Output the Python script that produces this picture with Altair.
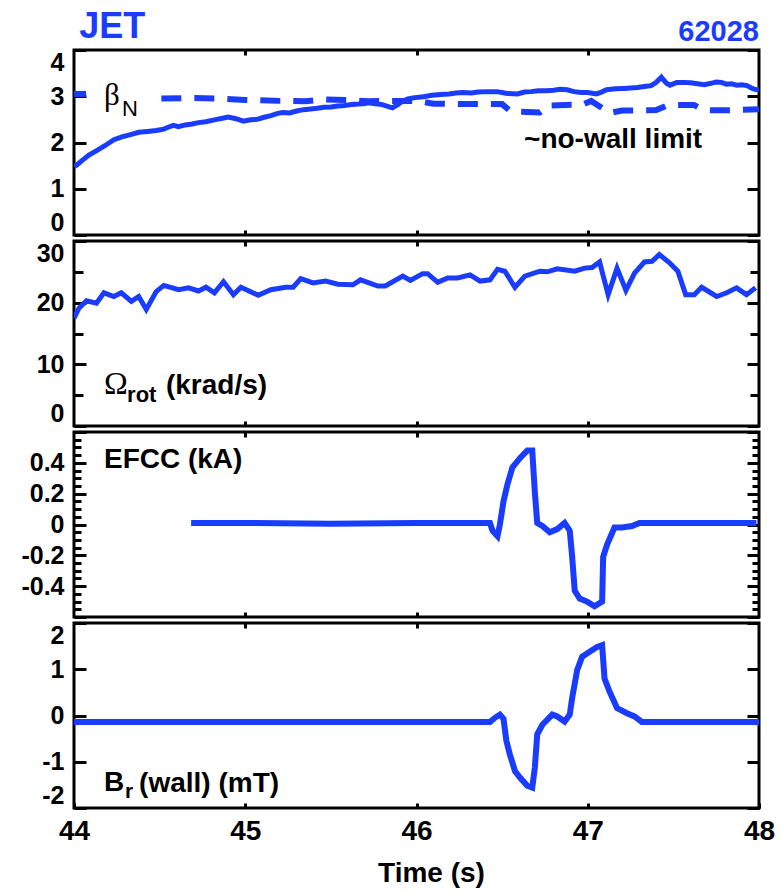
import altair as alt
import pandas as pd

BLUE = "#1a3cff"
SANS = "Liberation Sans, Arial, sans-serif"
SERIF = "Liberation Serif, Times New Roman, serif"

# ---------------- data ----------------
# Panel 1: normalised beta (solid) and ~no-wall limit (dashed)
beta_t = [44.0, 44.015, 44.05, 44.087, 44.13, 44.18, 44.233, 44.28, 44.33, 44.378, 44.43, 44.48,
          44.524, 44.55, 44.58, 44.61, 44.65, 44.69, 44.727, 44.77, 44.82, 44.86, 44.90, 44.94,
          44.99, 45.03, 45.07, 45.105, 45.15, 45.19, 45.22, 45.26, 45.30, 45.34, 45.37, 45.42,
          45.46, 45.50, 45.54, 45.58, 45.62, 45.66, 45.69, 45.72, 45.76, 45.80, 45.84, 45.86,
          45.89, 45.92, 45.95, 45.99, 46.04, 46.09, 46.14, 46.19, 46.23, 46.27, 46.32, 46.36,
          46.41, 46.47, 46.53, 46.59, 46.63, 46.67, 46.71, 46.76, 46.80, 46.84, 46.88, 46.92,
          46.96, 47.0, 47.05, 47.08, 47.11, 47.16, 47.21, 47.25, 47.29, 47.33, 47.37, 47.40,
          47.43, 47.46, 47.48, 47.52, 47.56, 47.60, 47.64, 47.68, 47.72, 47.75, 47.78, 47.81,
          47.84, 47.87, 47.90, 47.93, 47.96, 47.985, 48.0]
beta_v = [1.48, 1.51, 1.62, 1.73, 1.82, 1.93, 2.06, 2.12, 2.17, 2.22, 2.24, 2.26,
          2.29, 2.33, 2.37, 2.34, 2.38, 2.40, 2.43, 2.45, 2.49, 2.52, 2.55, 2.52,
          2.46, 2.49, 2.50, 2.54, 2.58, 2.63, 2.65, 2.64, 2.68, 2.71, 2.72, 2.74,
          2.76, 2.77, 2.79, 2.80, 2.82, 2.83, 2.84, 2.86, 2.84, 2.82, 2.77, 2.75,
          2.82, 2.90, 2.94, 2.97, 2.99, 3.02, 3.04, 3.05, 3.07, 3.08, 3.07, 3.09,
          3.10, 3.10, 3.06, 3.05, 3.09, 3.10, 3.12, 3.12, 3.13, 3.15, 3.14, 3.10,
          3.08, 3.08, 3.05, 3.09, 3.14, 3.16, 3.17, 3.18, 3.19, 3.21, 3.23, 3.30,
          3.41, 3.28, 3.24, 3.30, 3.30, 3.29, 3.27, 3.25, 3.28, 3.31, 3.30, 3.26,
          3.27, 3.24, 3.25, 3.23, 3.17, 3.14, 3.15]

nowall_seg = ["a", "a"] + ["b"] * 28
nowall_t = [44.0, 44.07,
            44.51, 44.70, 44.85, 45.00, 45.20, 45.35, 45.45, 45.60, 45.72, 45.85,
            46.00, 46.10, 46.30, 46.50, 46.55, 46.72, 46.77, 46.97, 47.02, 47.07,
            47.13, 47.20, 47.40, 47.47, 47.62, 47.68, 47.85, 48.0]
nowall_v = [3.05, 3.05,
            2.95, 2.96, 2.95, 2.92, 2.90, 2.89, 2.93, 2.92, 2.89, 2.90,
            2.90, 2.84, 2.83, 2.83, 2.67, 2.65, 2.80, 2.82, 2.90, 2.78,
            2.64, 2.69, 2.70, 2.81, 2.81, 2.70, 2.70, 2.72]

# Panel 2: rotation (krad/s)
rot_t = [44.0, 44.029, 44.073, 44.131, 44.175, 44.233, 44.276, 44.335, 44.378, 44.422, 44.48,
         44.524, 44.611, 44.669, 44.727, 44.771, 44.82, 44.873, 44.931, 44.975, 45.076,
         45.149, 45.236, 45.28, 45.324, 45.396, 45.469, 45.542, 45.629, 45.673, 45.775,
         45.818, 45.92, 45.964, 46.036, 46.065, 46.124, 46.182, 46.24, 46.313, 46.371,
         46.429, 46.473, 46.516, 46.575, 46.633, 46.72, 46.764, 46.822, 46.924, 46.982,
         47.025, 47.069, 47.119, 47.171, 47.223, 47.273, 47.331, 47.375, 47.418, 47.476,
         47.526, 47.572, 47.622, 47.665, 47.753, 47.811, 47.869, 47.927, 47.98]
rot_v = [17.5, 19.1, 20.3, 19.9, 21.6, 21.0, 21.6, 20.2, 21.0, 18.9, 21.8,
         22.8, 22.1, 22.4, 21.9, 22.5, 21.6, 23.4, 21.3, 22.5, 21.2,
         22.1, 22.5, 22.5, 23.9, 23.2, 23.5, 23.0, 22.9, 23.7, 22.7,
         22.7, 24.3, 23.6, 24.7, 24.7, 23.3, 24.0, 24.0, 24.5, 23.5,
         23.7, 25.4, 25.1, 22.5, 24.3, 25.1, 25.0, 25.5, 25.1, 25.6,
         25.7, 26.6, 21.3, 25.6, 22.0, 24.8, 26.6, 26.7, 27.8, 26.5,
         25.1, 21.3, 21.3, 22.5, 21.0, 21.6, 22.4, 21.3, 22.4]

# Panel 3: EFCC current (kA)
efcc_t = [44.684, 45.0, 45.5, 46.0, 46.429, 46.444, 46.473, 46.487, 46.508, 46.531, 46.56,
          46.604, 46.647, 46.676, 46.691, 46.705, 46.735, 46.778, 46.822, 46.865, 46.895,
          46.909, 46.924, 46.953, 46.996, 47.04, 47.084, 47.09, 47.113, 47.156, 47.2,
          47.258, 47.302, 47.985]
efcc_v = [0.01, 0.01, 0.005, 0.01, 0.01, -0.04, -0.075, 0.0, 0.15, 0.26, 0.37,
          0.43, 0.48, 0.48, 0.21, 0.01, -0.01, -0.05, -0.03, 0.01, -0.04,
          -0.21, -0.43, -0.48, -0.50, -0.53, -0.50, -0.21, -0.13, -0.02, -0.02,
          -0.01, 0.01, 0.01]

# Panel 4: Br at the wall (mT)
br_t = [44.0, 45.0, 46.0, 46.429, 46.458, 46.487, 46.508, 46.525, 46.545, 46.575, 46.604,
        46.647, 46.676, 46.691, 46.705, 46.735, 46.793, 46.822, 46.865, 46.895, 46.909,
        46.938, 46.967, 47.011, 47.055, 47.084, 47.098, 47.127, 47.171, 47.229, 47.273,
        47.316, 48.0]
br_v = [-0.14, -0.14, -0.14, -0.14, -0.05, 0.02, -0.07, -0.55, -0.84, -1.20, -1.34,
        -1.52, -1.56, -1.13, -0.41, -0.20, 0.02, -0.02, -0.13, 0.02, 0.38,
        0.98, 1.27, 1.38, 1.48, 1.52, 0.80, 0.52, 0.16, 0.05, -0.02,
        -0.14, -0.14]

# axis tick values
x_ticks_inner = [45, 46, 47]
x_ticks_all = [44, 45, 46, 47, 48]
p1_major = [0, 1, 2, 3, 4]
p2_major = [0, 10, 20, 30]
p2_minor = [5, 15, 25]
p3_major = [-0.6, -0.4, -0.2, 0, 0.2, 0.4, 0.6]
p3_minor = [-0.55, -0.5, -0.45, -0.35, -0.3, -0.25, -0.15, -0.1, -0.05,
            0.05, 0.1, 0.15, 0.25, 0.3, 0.35, 0.45, 0.5, 0.55]
p4_major = [-2, -1, 0, 1, 2]

W, H = 685, 185
XS = alt.Scale(domain=[44, 48], nice=False, zero=False)
HYPHEN_EXPR = "replace(datum.label, '\u2212', '-')"
P3_EXPR = ("abs(datum.value) > 0.5 ? '' : (datum.value == 0 ? '0' : "
           "replace(format(datum.value, '.1f'), '\u2212', '-'))")


def xenc(axis=None):
    return alt.X("t:Q", scale=XS, axis=axis)


def yenc(domain, axis=None):
    return alt.Y("v:Q", scale=alt.Scale(domain=domain, nice=False, zero=False), axis=axis)


def frame_layers(df, domain, major, label_expr, minor=None, minor_size=7, last=False):
    left = alt.Axis(orient="left", values=major, offset=-12, tickSize=12, labelPadding=10,
                    labelExpr=label_expr, labelFlush=True, title=None,
                    labelFont=SANS, labelFontSize=25, labelFontWeight="bold")
    if last:
        bottom = alt.Axis(orient="bottom", values=x_ticks_all, offset=-5, tickSize=5,
                          labelPadding=9, labelFont=SANS, labelFontSize=28,
                          labelFontWeight="bold", labelFlush=False, title="Time (s)",
                          titleFont=SANS, titleFontSize=28, titleFontWeight="bold",
                          titlePadding=14, titleX=357)
    else:
        bottom = alt.Axis(orient="bottom", values=x_ticks_inner, offset=-5, tickSize=5,
                          labels=False, title=None)
    right = alt.Axis(orient="right", values=major, offset=-12, tickSize=12,
                     labels=False, title=None)
    top = alt.Axis(orient="top", values=x_ticks_inner, offset=-5, tickSize=5,
                   labels=False, title=None)
    base = alt.Chart(df).mark_point(opacity=0)
    layers = [
        base.encode(x=xenc(bottom), y=yenc(domain, left)),
        base.encode(x=xenc(top), y=yenc(domain, right)),
    ]
    if minor:
        lmin = alt.Axis(orient="left", values=minor, offset=-minor_size, tickSize=minor_size,
                        labels=False, title=None)
        rmin = alt.Axis(orient="right", values=minor, offset=-minor_size, tickSize=minor_size,
                        labels=False, title=None)
        layers.append(base.encode(x=xenc(None), y=yenc(domain, lmin)))
        layers.append(base.encode(x=xenc(None), y=yenc(domain, rmin)))
    return layers


def label(domain, t, v, s, font=SANS, size=28, weight="bold", color="black", align="left"):
    df = pd.DataFrame({"t": [t], "v": [v], "s": [s]})
    return alt.Chart(df).mark_text(align=align, baseline="middle", font=font, fontSize=size,
                                   fontWeight=weight, color=color).encode(
        x=xenc(None), y=yenc(domain, None), text="s:N")


def panel(layers):
    return alt.layer(*layers).resolve_axis(x="independent", y="independent").properties(
        width=W, height=H)


# ---------- panel 1 ----------
d1 = [0, 4]
df_beta = pd.DataFrame({"t": beta_t, "v": beta_v})
df_nw = pd.DataFrame({"t": nowall_t, "v": nowall_v, "seg": nowall_seg})
p1 = panel(
    frame_layers(df_beta, d1, p1_major, "datum.label")
    + [
        alt.Chart(df_nw).mark_line(color=BLUE, strokeWidth=6, strokeDash=[20, 13], clip=True)
        .encode(x=xenc(None), y=yenc(d1, None), detail="seg:N"),
        alt.Chart(df_beta).mark_line(color=BLUE, strokeWidth=5, clip=True)
        .encode(x=xenc(None), y=yenc(d1, None)),
        label(d1, 44.175, 3.0, "β", font=SERIF, size=31, weight="normal"),
        label(d1, 44.28, 2.72, "N", font=SANS, size=22, weight="normal"),
        label(d1, 46.628, 2.05, "~no-wall limit"),
        label(d1, 44.03, 4.5, "JET", size=36, color=BLUE),
        label(d1, 48.0, 4.4, "62028", size=29, color=BLUE, align="right"),
    ]
)

# ---------- panel 2 ----------
d2 = [0, 30]
df_rot = pd.DataFrame({"t": rot_t, "v": rot_v})
p2 = panel(
    frame_layers(df_rot, d2, p2_major, "datum.label", minor=p2_minor, minor_size=9)
    + [
        alt.Chart(df_rot).mark_line(color=BLUE, strokeWidth=5, clip=True)
        .encode(x=xenc(None), y=yenc(d2, None)),
        label(d2, 44.175, 6.85, "Ω", font=SERIF, size=32, weight="normal"),
        label(d2, 44.31, 5.05, "rot", size=22),
        label(d2, 44.537, 6.52, "(krad/s)"),
    ]
)

# ---------- panel 3 ----------
d3 = [-0.6, 0.6]
df_efcc = pd.DataFrame({"t": efcc_t, "v": efcc_v})
p3 = panel(
    frame_layers(df_efcc, d3, p3_major, P3_EXPR, minor=p3_minor, minor_size=7)
    + [
        alt.Chart(df_efcc).mark_line(color=BLUE, strokeWidth=6, clip=True)
        .encode(x=xenc(None), y=yenc(d3, None)),
        label(d3, 44.175, 0.42, "EFCC (kA)"),
    ]
)

# ---------- panel 4 ----------
d4 = [-2, 2]
df_br = pd.DataFrame({"t": br_t, "v": br_v})
p4 = panel(
    frame_layers(df_br, d4, p4_major, HYPHEN_EXPR, last=True)
    + [
        alt.Chart(df_br).mark_line(color=BLUE, strokeWidth=6, clip=True)
        .encode(x=xenc(None), y=yenc(d4, None)),
        label(d4, 44.175, -1.45, "B"),
        label(d4, 44.298, -1.65, "r", size=21),
        label(d4, 44.38, -1.49, "(wall) (mT)"),
    ]
)

chart = (
    alt.vconcat(p1, p2, p3, p4, spacing=6, bounds="flush")
    .properties(padding={"left": 19, "top": 7, "right": 0, "bottom": 5}, background="white")
    .configure_view(stroke="black", strokeWidth=3)
    .configure_axis(domain=False, tickColor="black", tickWidth=3, labelColor="black",
                    titleColor="black", grid=False)
)

chart.save("out.html", embed_options={"renderer": "svg", "actions": False})
